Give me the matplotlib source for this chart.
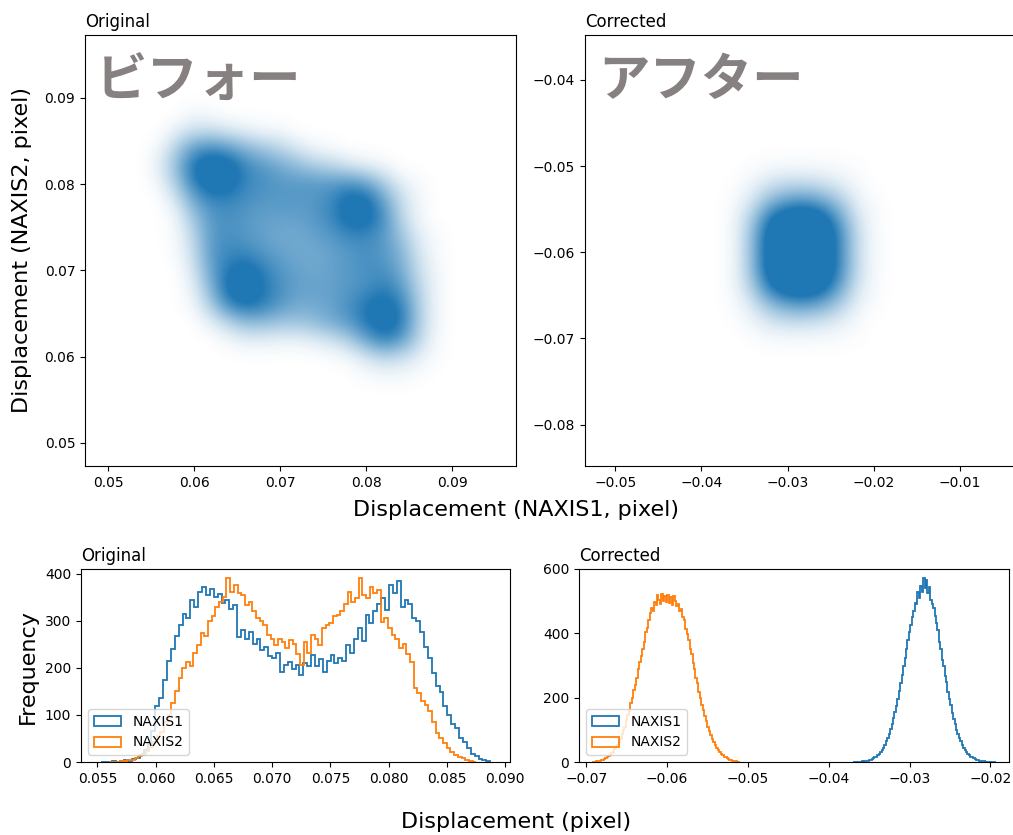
import numpy as np
import matplotlib
matplotlib.use("Agg")
import matplotlib.pyplot as plt
from matplotlib.colors import LinearSegmentedColormap

plt.rcParams['font.family'] = ['DejaVu Sans', 'Noto Sans CJK JP']

# --- histogram data (counts per bin, 100 bins each) ---
orig_n1_range = (0.0553, 0.0887)
orig_n1_counts = [
    1, 0, 1, 2, 1, 3, 4, 3, 6, 9,
    14, 25, 38, 65, 118, 135, 175, 215, 240, 268,
    290, 315, 305, 345, 330, 362, 372, 355, 368, 350,
    356, 338, 345, 325, 334, 266, 280, 262, 277, 250,
    262, 238, 245, 226, 221, 232, 192, 206, 212, 198,
    206, 185, 210, 203, 228, 205, 218, 192, 214, 228,
    210, 221, 215, 249, 232, 262, 285, 258, 313, 296,
    320, 335, 349, 322, 377, 360, 385, 330, 345, 335,
    306, 300, 277, 245, 221, 190, 162, 149, 120, 100,
    80, 72, 52, 43, 30, 18, 12, 6, 4, 2,
]
orig_n2_range = (0.0560, 0.0875)
orig_n2_counts = [
    0, 1, 1, 2, 2, 4, 5, 8, 12, 18,
    24, 32, 42, 55, 64, 85, 100, 125, 150, 178,
    200, 212, 205, 232, 248, 275, 268, 300, 310, 330,
    340, 350, 391, 362, 377, 360, 355, 334, 340, 320,
    306, 300, 291, 270, 262, 249, 262, 255, 242, 260,
    250, 230, 206, 255, 232, 270, 262, 249, 285, 291,
    295, 310, 313, 320, 335, 362, 340, 349, 391, 355,
    349, 372, 360, 365, 298, 305, 285, 270, 262, 243,
    250, 230, 213, 157, 147, 130, 121, 108, 85, 62,
    50, 40, 30, 21, 14, 10, 8, 5, 3, 1,
]
corr_n1_range = (-0.0370, -0.0193)
corr_n1_counts = [
    0, 0, 1, 0, 1, 1, 2, 1, 3, 3,
    4, 5, 7, 9, 11, 14, 17, 21, 26, 31,
    38, 45, 54, 64, 76, 88, 103, 118, 136, 154,
    175, 197, 222, 245, 270, 297, 322, 350, 378, 403,
    425, 452, 470, 494, 490, 527, 510, 548, 530, 572,
    540, 565, 525, 545, 505, 492, 480, 455, 432, 410,
    372, 352, 318, 300, 268, 250, 218, 195, 178, 152,
    135, 118, 100, 88, 75, 64, 52, 45, 37, 31,
    26, 21, 17, 14, 11, 9, 7, 5, 4, 3,
    2, 2, 1, 1, 1, 0, 1, 0, 0, 1,
]
corr_n2_range = (-0.0693, -0.0510)
corr_n2_counts = [
    0, 1, 1, 2, 3, 3, 5, 7, 9, 11,
    14, 19, 22, 28, 32, 40, 46, 52, 63, 72,
    86, 98, 110, 131, 146, 160, 182, 198, 223, 240,
    262, 290, 312, 330, 352, 372, 405, 418, 440, 462,
    478, 470, 498, 488, 520, 505, 490, 522, 500, 515,
    498, 520, 495, 512, 488, 515, 500, 485, 492, 468,
    475, 452, 440, 415, 398, 378, 350, 335, 308, 288,
    262, 245, 218, 200, 178, 162, 142, 128, 110, 96,
    84, 70, 61, 52, 44, 38, 31, 26, 21, 17,
    14, 11, 8, 7, 5, 4, 3, 2, 1, 1,
]

# --- point density of the scatter clouds (0.002 grid) ---
orig_grid_x = [0.054, 0.056, 0.058, 0.060, 0.062, 0.064, 0.066, 0.068, 0.070, 0.072,
               0.074, 0.076, 0.078, 0.080, 0.082, 0.084, 0.086, 0.088, 0.090]
orig_grid_y = [0.058, 0.060, 0.062, 0.064, 0.066, 0.068, 0.070, 0.072,
               0.074, 0.076, 0.078, 0.080, 0.082, 0.084, 0.086, 0.088]
orig_density = [
    [0, 0, 0, 0, 0, 0, 0, 0, 0, 0, 0, 0, 0, 0.3, 0.5, 0.5, 0.2, 0, 0],
    [0, 0, 0, 0, 0, 0, 0, 0, 0, 0, 0, 0.2, 0.5, 1.5, 2.5, 2, 1, 0.2, 0],
    [0, 0, 0, 0, 0, 0.5, 1, 1, 0.8, 0.8, 1.2, 1.8, 3, 5.5, 7.5, 6, 2.5, 0.3, 0],
    [0, 0, 0, 0, 1, 2.5, 4, 4, 3.5, 3.5, 4, 5, 6, 8, 9.5, 8, 3, 0.5, 0],
    [0, 0, 0, 0.5, 3, 7, 8.5, 7.5, 6, 5, 5, 5.5, 6.5, 8, 9, 7.5, 3, 0.5, 0],
    [0, 0, 0, 1, 4.5, 9, 10, 8, 6.5, 5.5, 5.5, 5.5, 6, 6.5, 7.5, 6, 2.5, 0.5, 0],
    [0, 0, 0, 1.5, 5.5, 8, 9, 7.5, 6, 5.5, 5, 5.5, 6, 6.5, 6.5, 5, 2, 0.5, 0],
    [0, 0, 0.3, 2, 6, 7, 7, 6, 5.5, 5, 5, 5.5, 6, 6.5, 6, 4.5, 1.5, 0.3, 0],
    [0, 0, 0.3, 2.5, 6, 6.5, 6, 5.5, 5, 5, 5.5, 6, 7, 7, 6, 3.5, 1, 0.3, 0],
    [0, 0, 0.5, 3.5, 6, 6.5, 6, 5.5, 5.5, 5.5, 6, 7, 9, 9, 6.5, 2.5, 0.5, 0, 0],
    [0, 0, 1.5, 5, 7, 7, 6.5, 6, 6, 6, 6, 7, 9, 9, 5.5, 2, 0.5, 0, 0],
    [0, 0.5, 3, 7.5, 9.5, 9, 7, 6.5, 6, 6, 6, 6, 6.5, 5.5, 3, 1, 0.3, 0, 0],
    [0, 1, 4, 8.5, 10, 9.5, 7, 6, 5, 4, 3, 2.5, 1.5, 1, 0.5, 0, 0, 0, 0],
    [0, 0.5, 3, 6, 7, 6, 4.5, 3.5, 2.5, 1.5, 0.5, 0.3, 0, 0, 0, 0, 0, 0, 0],
    [0, 0, 1, 2, 2, 1.5, 1, 0.5, 0.5, 0, 0, 0, 0, 0, 0, 0, 0, 0, 0],
    [0, 0, 0, 0.5, 0.3, 0, 0, 0, 0, 0, 0, 0, 0, 0, 0, 0, 0, 0, 0],
]
corr_grid_x = [-0.038, -0.036, -0.034, -0.032, -0.030, -0.028,
               -0.026, -0.024, -0.022, -0.020, -0.018]
corr_grid_y = [-0.072, -0.070, -0.068, -0.066, -0.064, -0.062, -0.060,
               -0.058, -0.056, -0.054, -0.052, -0.050, -0.048]
corr_density = [
    [0, 0, 0, 0, 0, 0, 0, 0, 0, 0, 0],
    [0, 0, 0.1, 0.3, 0.3, 0.3, 0.3, 0.2, 0.1, 0, 0],
    [0, 0.1, 0.6, 1.5, 2, 2, 1.6, 1, 0.3, 0, 0],
    [0, 0.3, 1.5, 4, 5.5, 6, 5, 3, 0.8, 0.2, 0],
    [0, 0.5, 3, 8, 10.5, 11, 9.5, 5.5, 1.5, 0.3, 0],
    [0, 0.5, 4, 10, 12, 12, 11, 7, 2, 0.3, 0],
    [0, 0.5, 4, 10, 12, 12, 11, 7, 2, 0.3, 0],
    [0, 0.5, 4, 10, 12, 12, 11, 7, 2, 0.3, 0],
    [0, 0.5, 3, 8, 10.5, 11, 9.5, 5.5, 1.5, 0.3, 0],
    [0, 0.3, 1.5, 4, 5.5, 6, 5, 3, 0.8, 0.2, 0],
    [0, 0.1, 0.6, 1.5, 2, 2, 1.6, 1, 0.3, 0, 0],
    [0, 0, 0.1, 0.3, 0.3, 0.3, 0.3, 0.2, 0.1, 0, 0],
    [0, 0, 0, 0, 0, 0, 0, 0, 0, 0, 0],
]

cloud_cmap = LinearSegmentedColormap.from_list('cloud', ['white', '#1f77b4'])


def draw_cloud(ax, gx, gy, dens):
    # pad with empty cells so the smoothing fades out instead of stopping at an edge
    step = gx[1] - gx[0]
    pad = 3
    dens = np.pad(np.array(dens, dtype=float), pad)
    ext = [gx[0] - step * (pad + 0.5), gx[-1] + step * (pad + 0.5),
           gy[0] - step * (pad + 0.5), gy[-1] + step * (pad + 0.5)]
    ax.imshow(dens, extent=ext, origin='lower', cmap=cloud_cmap,
              vmin=0, vmax=8, interpolation='bicubic', aspect='auto')


def draw_hist(ax, rng, counts, label):
    edges = np.linspace(rng[0], rng[1], len(counts) + 1)
    ax.hist(edges[:-1], bins=edges, weights=counts, histtype='step', label=label, linewidth=1.3)


fig = plt.figure(figsize=(10.13, 8.35), dpi=100)
W, H = 1013, 835

def add_ax(left, top, right, bottom):
    return fig.add_axes([left / W, 1 - bottom / H, (right - left) / W, (bottom - top) / H])

ax1 = add_ax(85, 35, 516, 466)
ax2 = add_ax(585, 35, 1016, 466)
ax3 = add_ax(81, 569, 510, 762)
ax4 = add_ax(579, 569, 1009, 762)

# scatter panels
draw_cloud(ax1, orig_grid_x, orig_grid_y, orig_density)
ax1.set_xlim(0.0473, 0.0974)
ax1.set_ylim(0.0473, 0.0973)
ax1.set_xticks([0.05, 0.06, 0.07, 0.08, 0.09])
ax1.set_yticks([0.05, 0.06, 0.07, 0.08, 0.09])
ax1.set_title('Original', loc='left', fontsize=12)

draw_cloud(ax2, corr_grid_x, corr_grid_y, corr_density)
ax2.set_xlim(-0.0535, -0.0035)
ax2.set_ylim(-0.0848, -0.0348)
ax2.set_xticks([-0.05, -0.04, -0.03, -0.02, -0.01])
ax2.set_yticks([-0.08, -0.07, -0.06, -0.05, -0.04])
ax2.set_title('Corrected', loc='left', fontsize=12)

jp_style = dict(family=['Noto Sans CJK JP'], fontsize=37, fontweight='bold',
                color='#878080', va='top', ha='left')
ax1.text(0.025, 0.955, 'ビフォー', transform=ax1.transAxes, **jp_style)
ax2.text(0.03, 0.955, 'アフター', transform=ax2.transAxes, **jp_style)

# histogram panels
draw_hist(ax3, orig_n1_range, orig_n1_counts, 'NAXIS1')
draw_hist(ax3, orig_n2_range, orig_n2_counts, 'NAXIS2')
ax3.set_xlim(0.0536, 0.0904)
ax3.set_ylim(0, 410)
ax3.set_xticks([0.055, 0.060, 0.065, 0.070, 0.075, 0.080, 0.085, 0.090])
ax3.set_yticks([0, 100, 200, 300, 400])
ax3.set_title('Original', loc='left', fontsize=12)
ax3.legend(loc='lower left', fontsize=10)

draw_hist(ax4, corr_n1_range, corr_n1_counts, 'NAXIS1')
draw_hist(ax4, corr_n2_range, corr_n2_counts, 'NAXIS2')
ax4.set_xlim(-0.0709, -0.0177)
ax4.set_ylim(0, 600)
ax4.set_xticks([-0.07, -0.06, -0.05, -0.04, -0.03, -0.02])
ax4.set_yticks([0, 200, 400, 600])
ax4.set_title('Corrected', loc='left', fontsize=12)
ax4.legend(loc='lower left', fontsize=10)

# shared labels
fig.text(516 / W, 1 - 510 / H, 'Displacement (NAXIS1, pixel)', ha='center', va='center', fontsize=16)
fig.text(22 / W, 1 - 250 / H, 'Displacement (NAXIS2, pixel)', ha='center', va='center',
         rotation=90, fontsize=16)
fig.text(516 / W, 1 - 822 / H, 'Displacement (pixel)', ha='center', va='center', fontsize=16)
fig.text(28 / W, 1 - 667 / H, 'Frequency', ha='center', va='center', rotation=90, fontsize=16)

fig.savefig('out.png', dpi=100)
